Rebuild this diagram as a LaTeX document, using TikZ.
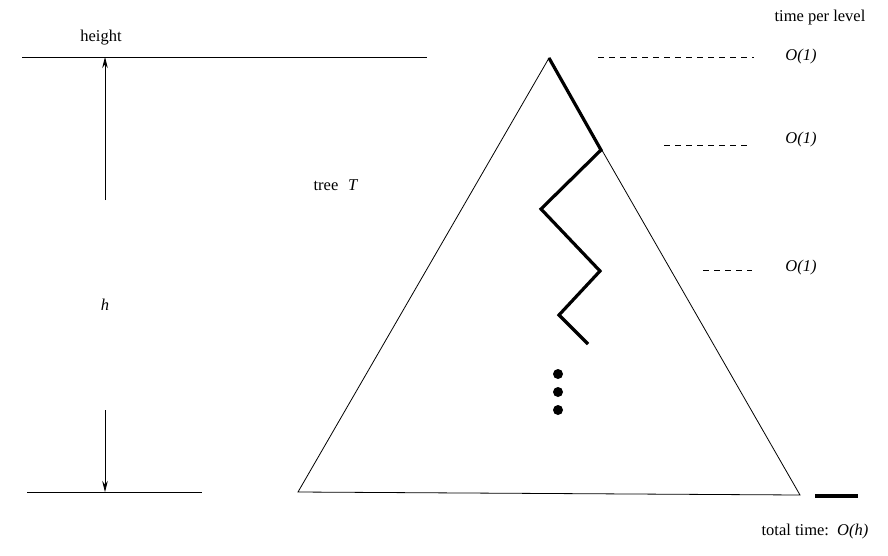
\documentclass[tikz,border=0pt]{standalone}
\usepackage{fontspec}
\setmainfont{Liberation Serif}
\usetikzlibrary{arrows.meta}
\begin{document}
\begin{tikzpicture}[x=1pt,y=-1pt,
  lbl/.style={font=\fontsize{16.5}{19}\selectfont, inner sep=0pt},
  thin/.style={line width=0.8pt},
  dashline/.style={line width=0.8pt, dash pattern=on 6pt off 5pt},
  thickpath/.style={line width=3.2pt, line join=miter},
  arr/.style={thin, -{Stealth[length=11pt,width=5.5pt]}},
  dot/.style={circle, fill=black, minimum size=10pt, inner sep=0pt}]
\useasboundingbox (0,0) rectangle (888,555);
% horizontal reference lines
\coordinate (tl1) at (22,57);
\coordinate (tl2) at (427,57);
\coordinate (bl1) at (27,492);
\coordinate (bl2) at (202,492);
\draw[thin] (tl1) -- (tl2);
\draw[thin] (bl1) -- (bl2);
\node[lbl] (height) at (101,38) {height};
\node[lbl] (h) at (105,305) {\textit{h}};
\coordinate (upstart) at (105,200);
\coordinate (uptip) at (105,57);
\coordinate (dnstart) at (105,410);
\coordinate (dntip) at (105,492);
\draw[arr] (upstart) -- (uptip);
\draw[arr] (dnstart) -- (dntip);
% triangle
\coordinate (apex) at (549,58);
\coordinate (bleft) at (298,492);
\coordinate (bright) at (800,495);
\draw[thin] (apex) -- (bright) -- (bleft) -- cycle;
\node[lbl] (tree) at (336,185) {tree\hspace{0.6em}\textit{T}};
% thick path
\coordinate (p1) at (601,150);
\coordinate (p2) at (541,209);
\coordinate (p3) at (600,271);
\coordinate (p4) at (559,315);
\coordinate (p5) at (588,344);
\draw[thickpath] (apex) -- (p1) -- (p2) -- (p3) -- (p4) -- (p5);
\node[dot] (d1) at (558,374) {};
\node[dot] (d2) at (558,392) {};
\node[dot] (d3) at (558,410) {};
% dashed levels
\coordinate (a1) at (598,57);
\coordinate (a2) at (754,57);
\coordinate (b1) at (664,145);
\coordinate (b2) at (750,145);
\coordinate (c1) at (703,270);
\coordinate (c2) at (752,270);
\draw[dashline] (a1) -- (a2);
\draw[dashline] (b1) -- (b2);
\draw[dashline] (c1) -- (c2);
\node[lbl] (tpl) at (820,18) {time per level};
\node[lbl] (o1) at (801,57) {\textit{O(1)}};
\node[lbl] (o2) at (801,140) {\textit{O(1)}};
\node[lbl] (o3) at (801,268) {\textit{O(1)}};
\coordinate (t1) at (815,496);
\coordinate (t2) at (858,496);
\draw[line width=3.2pt] (t1) -- (t2);
\node[lbl] (total) at (815,532) {total time:\hspace{0.5em}\textit{O(h)}};
\end{tikzpicture}
\end{document}
